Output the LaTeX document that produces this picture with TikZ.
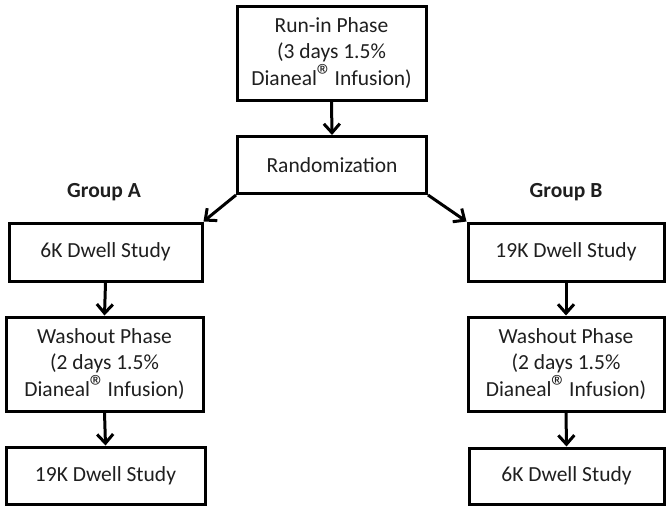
\documentclass[tikz,border=0pt]{standalone}
\usepackage{fontspec}
\setmainfont{Carlito}
\usetikzlibrary{arrows.meta}
\newcommand{\regmk}{\kern-0.5pt\smash{\raisebox{-0.1ex}{\fontsize{32}{32}\selectfont ®}}\kern-1pt\hspace{3pt}}
\begin{document}
\begin{tikzpicture}[x=1pt,y=-1pt,
  box/.style={draw=black, line width=3pt, align=center, inner sep=0pt,
    font=\fontsize{21.5}{26.5}\selectfont, text=black!88},
  grp/.style={font=\fontsize{21.5}{26.5}\selectfont\bfseries, text=black!88},
  arr/.style={line width=3pt, -{Straight Barb[length=9pt,width=16pt,line width=3pt]}}]
\useasboundingbox (0,0) rectangle (671,512);
\fill[white] (0,0) rectangle (671,512);
\node[box, minimum width=189pt, minimum height=94pt] (run) at (331.5,53) {Run-in Phase\\(3 days 1.5\%\\Dianeal\regmk{}Infusion)};
\node[box, minimum width=189pt, minimum height=57pt] (rand) at (332,165) {Randomization};
\node[grp] (ga) at (104,192) {Group A};
\node[grp] (gb) at (566,192) {Group B};
\node[box, minimum width=193pt, minimum height=58pt] (a1) at (105.5,252) {6K Dwell Study};
\node[box, minimum width=197pt, minimum height=94pt] (a2) at (104.5,364) {Washout Phase\\(2 days 1.5\%\\Dianeal\regmk{}Infusion)};
\node[box, minimum width=199pt, minimum height=57pt] (a3) at (105.5,475.5) {19K Dwell Study};
\node[box, minimum width=196pt, minimum height=58pt] (b1) at (566,252) {19K Dwell Study};
\node[box, minimum width=196pt, minimum height=94pt] (b2) at (566,364) {Washout Phase\\(2 days 1.5\%\\Dianeal\regmk{}Infusion)};
\node[box, minimum width=195pt, minimum height=56pt] (b3) at (566.5,476) {6K Dwell Study};
\draw[arr] (run.south) -- (rand.north);
\draw[arr] (rand.south west) -- (a1.north east);
\draw[arr] (rand.south east) -- (b1.north west);
\draw[arr] (a1.south) -- (a2.north);
\draw[arr] (a2.south) -- (a3.north);
\draw[arr] (b1.south) -- (b2.north);
\draw[arr] (b2.south) -- (b3.north);
\end{tikzpicture}
\end{document}
